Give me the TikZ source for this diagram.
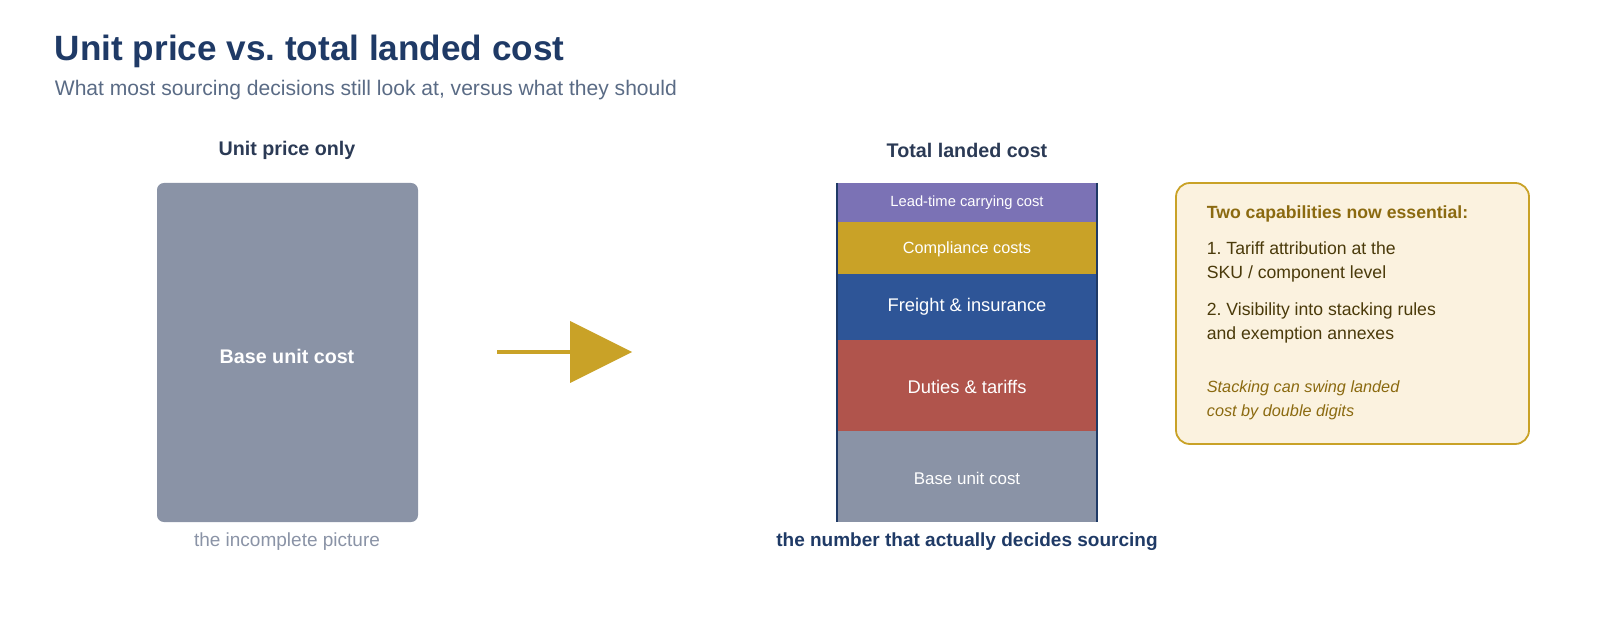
\documentclass[tikz,border=0pt]{standalone}
\usepackage{fontspec}
\setmainfont{Liberation Sans}
\frenchspacing
\definecolor{navy}{HTML}{1F3A66}
\definecolor{sub}{HTML}{5A6B85}
\definecolor{hdr}{HTML}{2B3A55}
\definecolor{greyb}{HTML}{8A93A6}
\definecolor{gold}{HTML}{C9A227}
\definecolor{purp}{HTML}{7B72B5}
\definecolor{blu}{HTML}{2E5597}
\definecolor{redb}{HTML}{B0544C}
\definecolor{cream}{HTML}{FBF2DF}
\definecolor{brown}{HTML}{8B6A10}
\definecolor{dbrown}{HTML}{4A3A0A}
\begin{document}
\begin{tikzpicture}[x=0.02551cm,y=-0.02551cm,
  lbl/.style={text=white,font=\fontsize{13.3}{15}\selectfont},
  ptxt/.style={anchor=base west,text=dbrown,font=\fontsize{12.8}{15}\selectfont}]
\path[use as bounding box] (0,0) rectangle (1600,640);
\clip (0,0) rectangle (1600,640);
\node[anchor=base west,text=navy,font=\fontsize{25.5}{30}\selectfont\bfseries] (title) at (50,61) {Unit price vs. total landed cost};
\node[anchor=base west,text=sub,font=\fontsize{15.3}{18}\selectfont] (subt) at (50,96) {What most sourcing decisions still look at, versus what they should};
\node[text=hdr,font=\fontsize{14.3}{17}\selectfont\bfseries] (h1) at (287,150) {Unit price only};
\node[text=hdr,font=\fontsize{14.3}{17}\selectfont\bfseries] (h2) at (967,150) {Total landed cost};
\fill[greyb,rounded corners=5pt] (157,183) rectangle (418,522);
\node[text=white,font=\fontsize{14.3}{17}\selectfont\bfseries] (base1) at (287,356) {Base unit cost};
\node[text=greyb,font=\fontsize{13.8}{16}\selectfont] (cap1) at (287,542) {the incomplete picture};
\coordinate (as) at (497,352); \coordinate (ae) at (570,352);
\draw[gold,line width=3.5pt] (as) -- (ae);
\fill[gold] (570,321) -- (632,352) -- (570,383) -- cycle;
\fill[purp] (836,183) rectangle (1098,222);
\fill[gold] (836,222) rectangle (1098,274);
\fill[blu] (836,274) rectangle (1098,340);
\fill[redb] (836,340) rectangle (1098,431);
\fill[greyb] (836,431) rectangle (1098,522);
\draw[navy,line width=2pt] (837,183) -- (837,522) (1097,183) -- (1097,522);
\node[lbl,font=\fontsize{10.7}{12}\selectfont] (s1) at (967,203) {Lead-time carrying cost};
\node[lbl,font=\fontsize{11.8}{14}\selectfont] (s2) at (967,249) {Compliance costs};
\node[lbl] (s3) at (967,307) {Freight \& insurance};
\node[lbl] (s4) at (967,387) {Duties \& tariffs};
\node[lbl,font=\fontsize{12.3}{14}\selectfont] (s5) at (967,478) {Base unit cost};
\node[text=navy,font=\fontsize{13.8}{16}\selectfont\bfseries] (cap2) at (967,542) {the number that actually decides sourcing};
\draw[gold,fill=cream,line width=1.3pt,rounded corners=10pt] (1176,183) rectangle (1529,444);
\node[anchor=base west,text=brown,font=\fontsize{12.8}{15}\selectfont\bfseries] (pt) at (1202,219) {Two capabilities now essential:};
\node[ptxt] (p1a) at (1202,255) {1. Tariff attribution at the};
\node[ptxt] (p1b) at (1202,279) {SKU / component level};
\node[ptxt] (p2a) at (1202,316) {2. Visibility into stacking rules};
\node[ptxt] (p2b) at (1202,340) {and exemption annexes};
\node[anchor=base west,text=brown,font=\fontsize{11.8}{14}\selectfont\itshape] (p3a) at (1202,392) {Stacking can swing landed};
\node[anchor=base west,text=brown,font=\fontsize{11.8}{14}\selectfont\itshape] (p3b) at (1202,416) {cost by double digits};
\end{tikzpicture}
\end{document}
